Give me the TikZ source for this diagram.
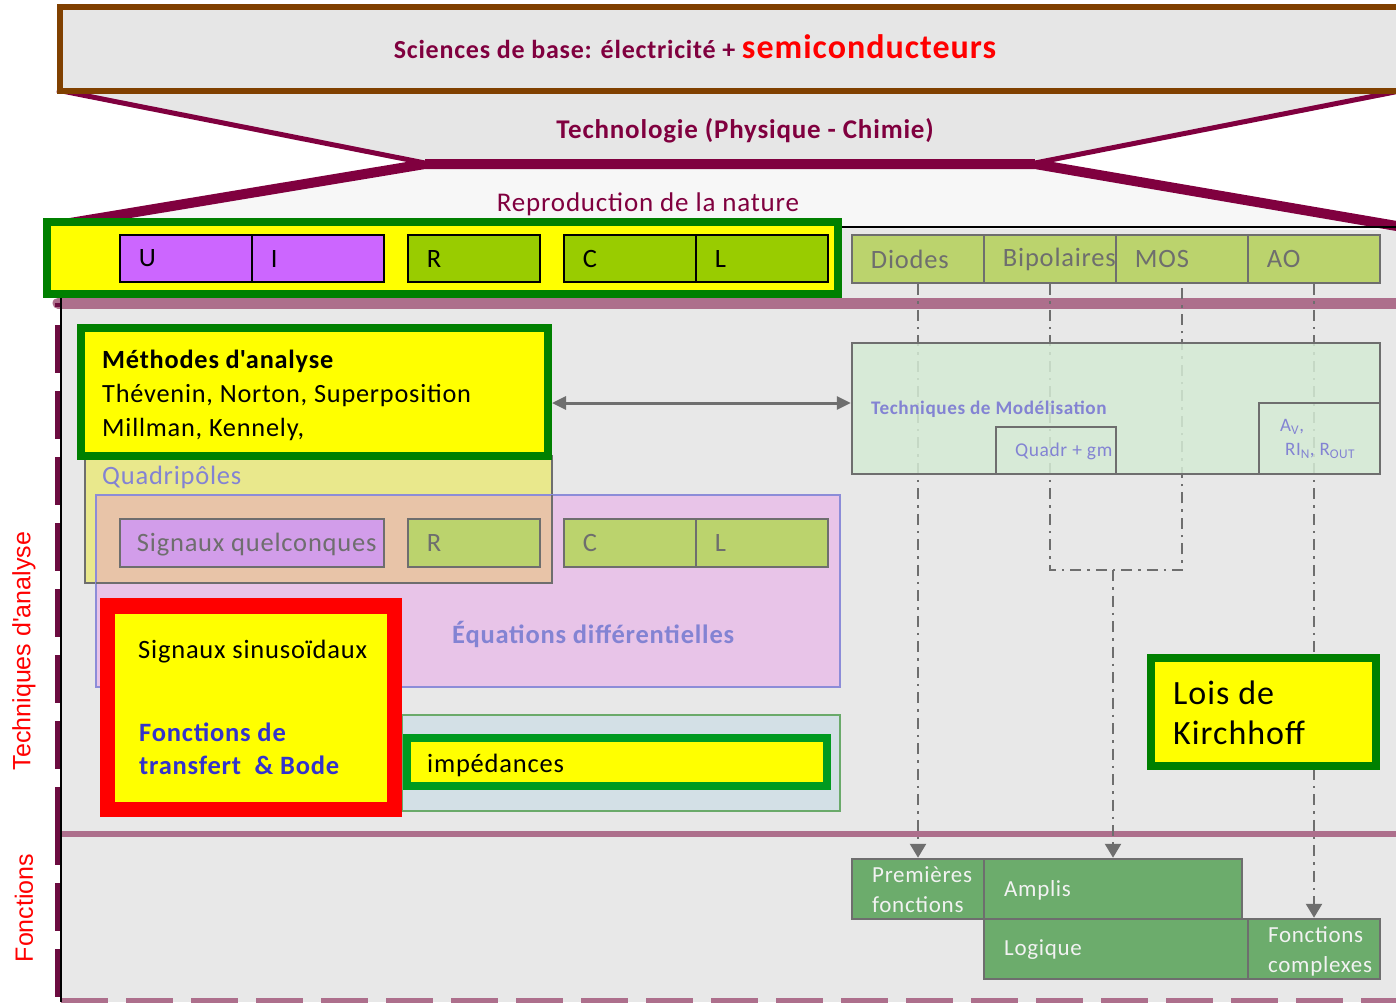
\documentclass[tikz,border=0pt]{standalone}
\usepackage{fontspec}
\setmainfont{Carlito}[LetterSpace=3]
\newfontfamily\arialf{Liberation Sans}
\usetikzlibrary{fit,arrows.meta}
\newcommand\fsz[2]{\fontsize{#1}{#2}\selectfont}
\definecolor{panelgray}{HTML}{E8E8E8}
\definecolor{topgray}{HTML}{E6E6E6}
\definecolor{lightfun}{HTML}{F7F7F7}
\definecolor{maroon}{HTML}{80003F}
\definecolor{brownb}{HTML}{804000}
\definecolor{mauve}{HTML}{AD6F8C}
\definecolor{dmaroon}{HTML}{6C0C40}
\definecolor{ygreen}{HTML}{008000}
\definecolor{purpleA}{HTML}{CC66FF}
\definecolor{greenA}{HTML}{99CC00}
\definecolor{oliveB}{HTML}{BBD36D}
\definecolor{grayB}{HTML}{6E6E6E}
\definecolor{quadY}{HTML}{E9E88C}
\definecolor{peach}{HTML}{E8C4A8}
\definecolor{eqP}{HTML}{E8C4E8}
\definecolor{eqB}{HTML}{8C8CD8}
\definecolor{lav}{HTML}{8383D3}
\definecolor{sigP}{HTML}{D29DEA}
\definecolor{modG}{HTML}{D5EBD5}
\definecolor{blueT}{HTML}{3333CC}
\definecolor{impB}{HTML}{D3E0E6}
\definecolor{impG}{HTML}{6AAA6A}
\definecolor{impGreen}{HTML}{009A20}
\definecolor{funcG}{HTML}{6CAC6C}
\definecolor{funcT}{HTML}{F2F2F2}
\definecolor{pureyellow}{RGB}{255,255,0}
\begin{document}
\begin{tikzpicture}[x=1pt,y=-1pt,
  bx/.style={draw, inner sep=0pt},
  lbl/.style={anchor=west, inner sep=0pt, font=\fsz{26.5}{31}},
  blk/.style={bx, draw=black, line width=2.5pt},
  cell/.style={bx, fill=oliveB, draw=grayB, line width=2.5pt},
  celltxt/.style={lbl, text=grayB},
  dd/.style={draw=grayB, line width=2.5pt, dash pattern=on 11pt off 6pt on 2.5pt off 6pt},
  ddarrow/.style={dd, -{Triangle[length=14pt,width=16pt]}},
  func/.style={bx, fill=funcG, draw=grayB, line width=2.5pt},
  ftext/.style={anchor=west, inner sep=0pt, align=left, text=funcT, font=\fsz{23}{30}},
  vlab/.style={rotate=90, text=red, font=\arialf\fsz{25}{30}, inner sep=0pt}
]
\useasboundingbox (0,0) rectangle (1396,1002);
\clip (0,0) rectangle (1396,1002);
\fill[white] (0,0) rectangle (1396,1002);

% main panel
\fill[panelgray] (60,226) rectangle (1400,1002);

% funnel
\filldraw[fill=lightfun, draw=maroon, line width=10pt] (52,226) -- (425,164) -- (1035,164) -- (1420,230);
\filldraw[fill=topgray, draw=maroon, line width=5pt] (57,90) -- (425,163) -- (1035,163) -- (1420,87);
\draw[maroon, line width=9pt] (425,163.5) -- (1035,163.5);

% top box
\node[bx, fit={(60,7)(1420,91)}, fill=topgray, draw=brownb, line width=6pt] (sci) {};
\node[font=\fsz{26}{31}\bfseries, text=maroon] (scit) at (695,47)
  {Sciences de base: électricité + {\color{red}\fsz{34}{40}semiconducteurs}};
\node[font=\fsz{27}{31}\bfseries, text=maroon] (tech) at (745,131) {Technologie (Physique - Chimie)};
\node[font=\fsz{27}{31}, text=maroon] (repro) at (648,204) {Reproduction de la nature};

\draw[black, line width=2pt] (842,226.5) -- (1400,226.5);

% section borders
\draw[mauve, line width=11pt, line cap=round] (58,303) -- (1410,303);
\draw[mauve, line width=6pt] (60,834) -- (1400,834);
\draw[mauve, line width=5pt, dash pattern=on 47pt off 18pt] (61,1000) -- (1400,1000);
\draw[dmaroon, line width=5pt, dash pattern=on 48pt off 18pt, dash phase=44pt] (57.5,303) -- (57.5,833);
\draw[dmaroon, line width=5pt, dash pattern=on 48pt off 18pt, dash phase=16pt] (57.5,833) -- (57.5,1002);
\draw[black, line width=2pt] (60.5,297) -- (60.5,1002);

% vertical labels
\node[vlab] (vtech) at (24,651) {Techniques d\textquotesingle analyse};
\node[vlab] (vfonc) at (24,908) {Fonctions};

% top left box
\node[bx, fit={(47,222)(838,294)}, fill=pureyellow, draw=ygreen, line width=8pt] (uirc) {};
\node[blk, fit={(120,235)(252,282)}, fill=purpleA] (U) {};
\node[blk, fit={(252,235)(384,282)}, fill=purpleA] (I) {};
\node[blk, fit={(408,235)(540,282)}, fill=greenA] (R) {};
\node[blk, fit={(564,235)(696,282)}, fill=greenA] (C) {};
\node[blk, fit={(696,235)(828,282)}, fill=greenA] (L) {};
\node[lbl] (tU) at ([xshift=20pt]U.west) {U};
\node[lbl] (tI) at ([xshift=20pt]I.west) {I};
\node[lbl] (tR) at ([xshift=20pt]R.west) {R};
\node[lbl] (tC) at ([xshift=20pt]C.west) {C};
\node[lbl] (tL) at ([xshift=20pt]L.west) {L};

% top right cells
\node[cell, fit={(852,235)(984,283)}] (D) {};
\node[cell, fit={(984,235)(1116,283)}] (B) {};
\node[cell, fit={(1116,235)(1248,283)}] (M) {};
\node[cell, fit={(1248,235)(1380,283)}] (A) {};
\node[celltxt, font=\fsz{26.5}{32}] (tD) at ([xshift=20pt]D.west) {Diodes};
\node[celltxt, font=\fsz{26.5}{32}] (tB) at ([xshift=20pt]B.west) {Bipolaires};
\node[celltxt, font=\fsz{26.5}{32}] (tM) at ([xshift=20pt]M.west) {MOS};
\node[celltxt, font=\fsz{26.5}{32}] (tA) at ([xshift=20pt]A.west) {AO};

% function boxes
\node[func, fit={(852,859)(984,919)}] (P) {};
\node[func, fit={(984,859)(1242,919)}] (Am) {};
\node[func, fit={(984,919)(1248,979)}] (Lo) {};
\node[func, fit={(1248,919)(1380,979)}] (FC) {};
\node[ftext] (tP) at (872,890) {Premières\\fonctions};
\node[ftext] (tAm) at (1004,890) {Amplis};
\node[ftext] (tLo) at (1004,950) {Logique};
\node[ftext] (tFC) at (1268,951) {Fonctions\\complexes};

% dash-dot connectors
\coordinate (jB) at (B.south |- 0,570);
\coordinate (jM) at (M.south |- 0,570);
\coordinate (jA) at (Am.north |- 0,570);
\draw[ddarrow] (D.south) -- (P.north);
\draw[dd] (B.south) -- (jB) -- (jM) -- (M.south);
\draw[ddarrow] (jA) -- (Am.north);
\draw[ddarrow] (A.south) -- (FC.north);

% modelisation
\node[bx, fit={(852,343)(1380,474)}, fill=modG, fill opacity=0.85, draw=grayB, line width=2.5pt] (mod) {};
\node[bx, fit={(996,427)(1116,474)}, draw=grayB, line width=2.5pt] (quadr) {};
\node[bx, fit={(1259,403)(1380,474)}, draw=grayB, line width=2.5pt] (av) {};
\node[lbl, font=\fsz{19.2}{24}\bfseries, text=lav] (tmod) at (871,409) {Techniques de Modélisation};
\node[lbl, font=\fsz{19.5}{23}, text=lav] (tquadr) at (1015,451) {Quadr + gm};
\node[lbl, font=\fsz{19}{23}, text=lav] (tav1) at (1280,427) {A\textsubscript{V},};
\node[lbl, font=\fsz{19}{23}, text=lav] (tav2) at (1285,451) {RI\textsubscript{N}, R\textsubscript{OUT}};

% Kirchhoff
\node[bx, fit={(1151,658)(1376,765.5)}, fill=pureyellow, draw=ygreen, line width=8pt] (kir) {};
\node[anchor=west, inner sep=0pt, align=left, font=\fsz{34}{40}] (tkir) at (1173,713) {Lois de\\Kirchhoff};

% left column
\node[bx, fit={(84.5,456)(552,583)}, fill=quadY, draw=grayB, line width=2pt] (quad) {};
\node[bx, fit={(96,495)(840,687)}, fill=eqP, draw=eqB, line width=2pt] (eq) {};
\fill[peach] (97,496) rectangle (551,582);
\draw[eqB, line width=2pt] (96,583) -- (96,495) -- (552,495);
\draw[grayB, line width=2pt] (552,495) -- (552,583) -- (96,583);
\node[lbl, text=lav] (tquad) at (102,477) {Quadripôles};
\node[lbl, font=\fsz{26.5}{31}\bfseries, text=lav] (teq) at (452,634) {Équations différentielles};

\node[cell, fit={(120,519)(384,567)}, fill=sigP] (SQ) {};
\node[cell, fit={(408,519)(540,567)}] (R2) {};
\node[cell, fit={(564,519)(696,567)}] (C2) {};
\node[cell, fit={(696,519)(828,567)}] (L2) {};
\node[celltxt] (tSQ) at ([xshift=18pt,yshift=-2pt]SQ.west) {Signaux quelconques};
\node[celltxt] (tR2) at ([xshift=20pt]R2.west) {R};
\node[celltxt] (tC2) at ([xshift=20pt]C2.west) {C};
\node[celltxt] (tL2) at ([xshift=20pt]L2.west) {L};

\node[bx, fit={(81,328)(548,456)}, fill=pureyellow, draw=ygreen, line width=8pt] (meth) {};
\node[anchor=west, inner sep=0pt, align=left, font=\fsz{26.3}{34}] (tmeth) at (102,395)
  {\textbf{Méthodes d\textquotesingle analyse}\\Thévenin, Norton, Superposition\\Millman, Kennely,};

\node[bx, fit={(402,715)(840,811)}, fill=impB, draw=impG, line width=2pt] (impo) {};
\node[bx, fit={(107.5,606)(394.5,809.5)}, fill=pureyellow, draw=red, line width=15.5pt] (sin) {};
\node[bx, fit={(407,738)(827,785.5)}, fill=pureyellow, draw=impGreen, line width=8pt] (imp) {};
\node[lbl] (timp) at (427,765) {impédances};
\node[lbl] (tsin) at (138,652) {Signaux sinusoïdaux};
\node[anchor=west, inner sep=0pt, align=left, font=\fsz{26.5}{33}\bfseries, text=blueT] (tbode) at (139,749)
  {Fonctions de\\transfert \ \& Bode};

% double arrow
\draw[grayB, line width=3pt, {Triangle[length=14pt,width=13pt]}-{Triangle[length=14pt,width=13pt]}]
  (meth.east |- 0,403) -- (mod.west |- 0,403);
\end{tikzpicture}
\end{document}
